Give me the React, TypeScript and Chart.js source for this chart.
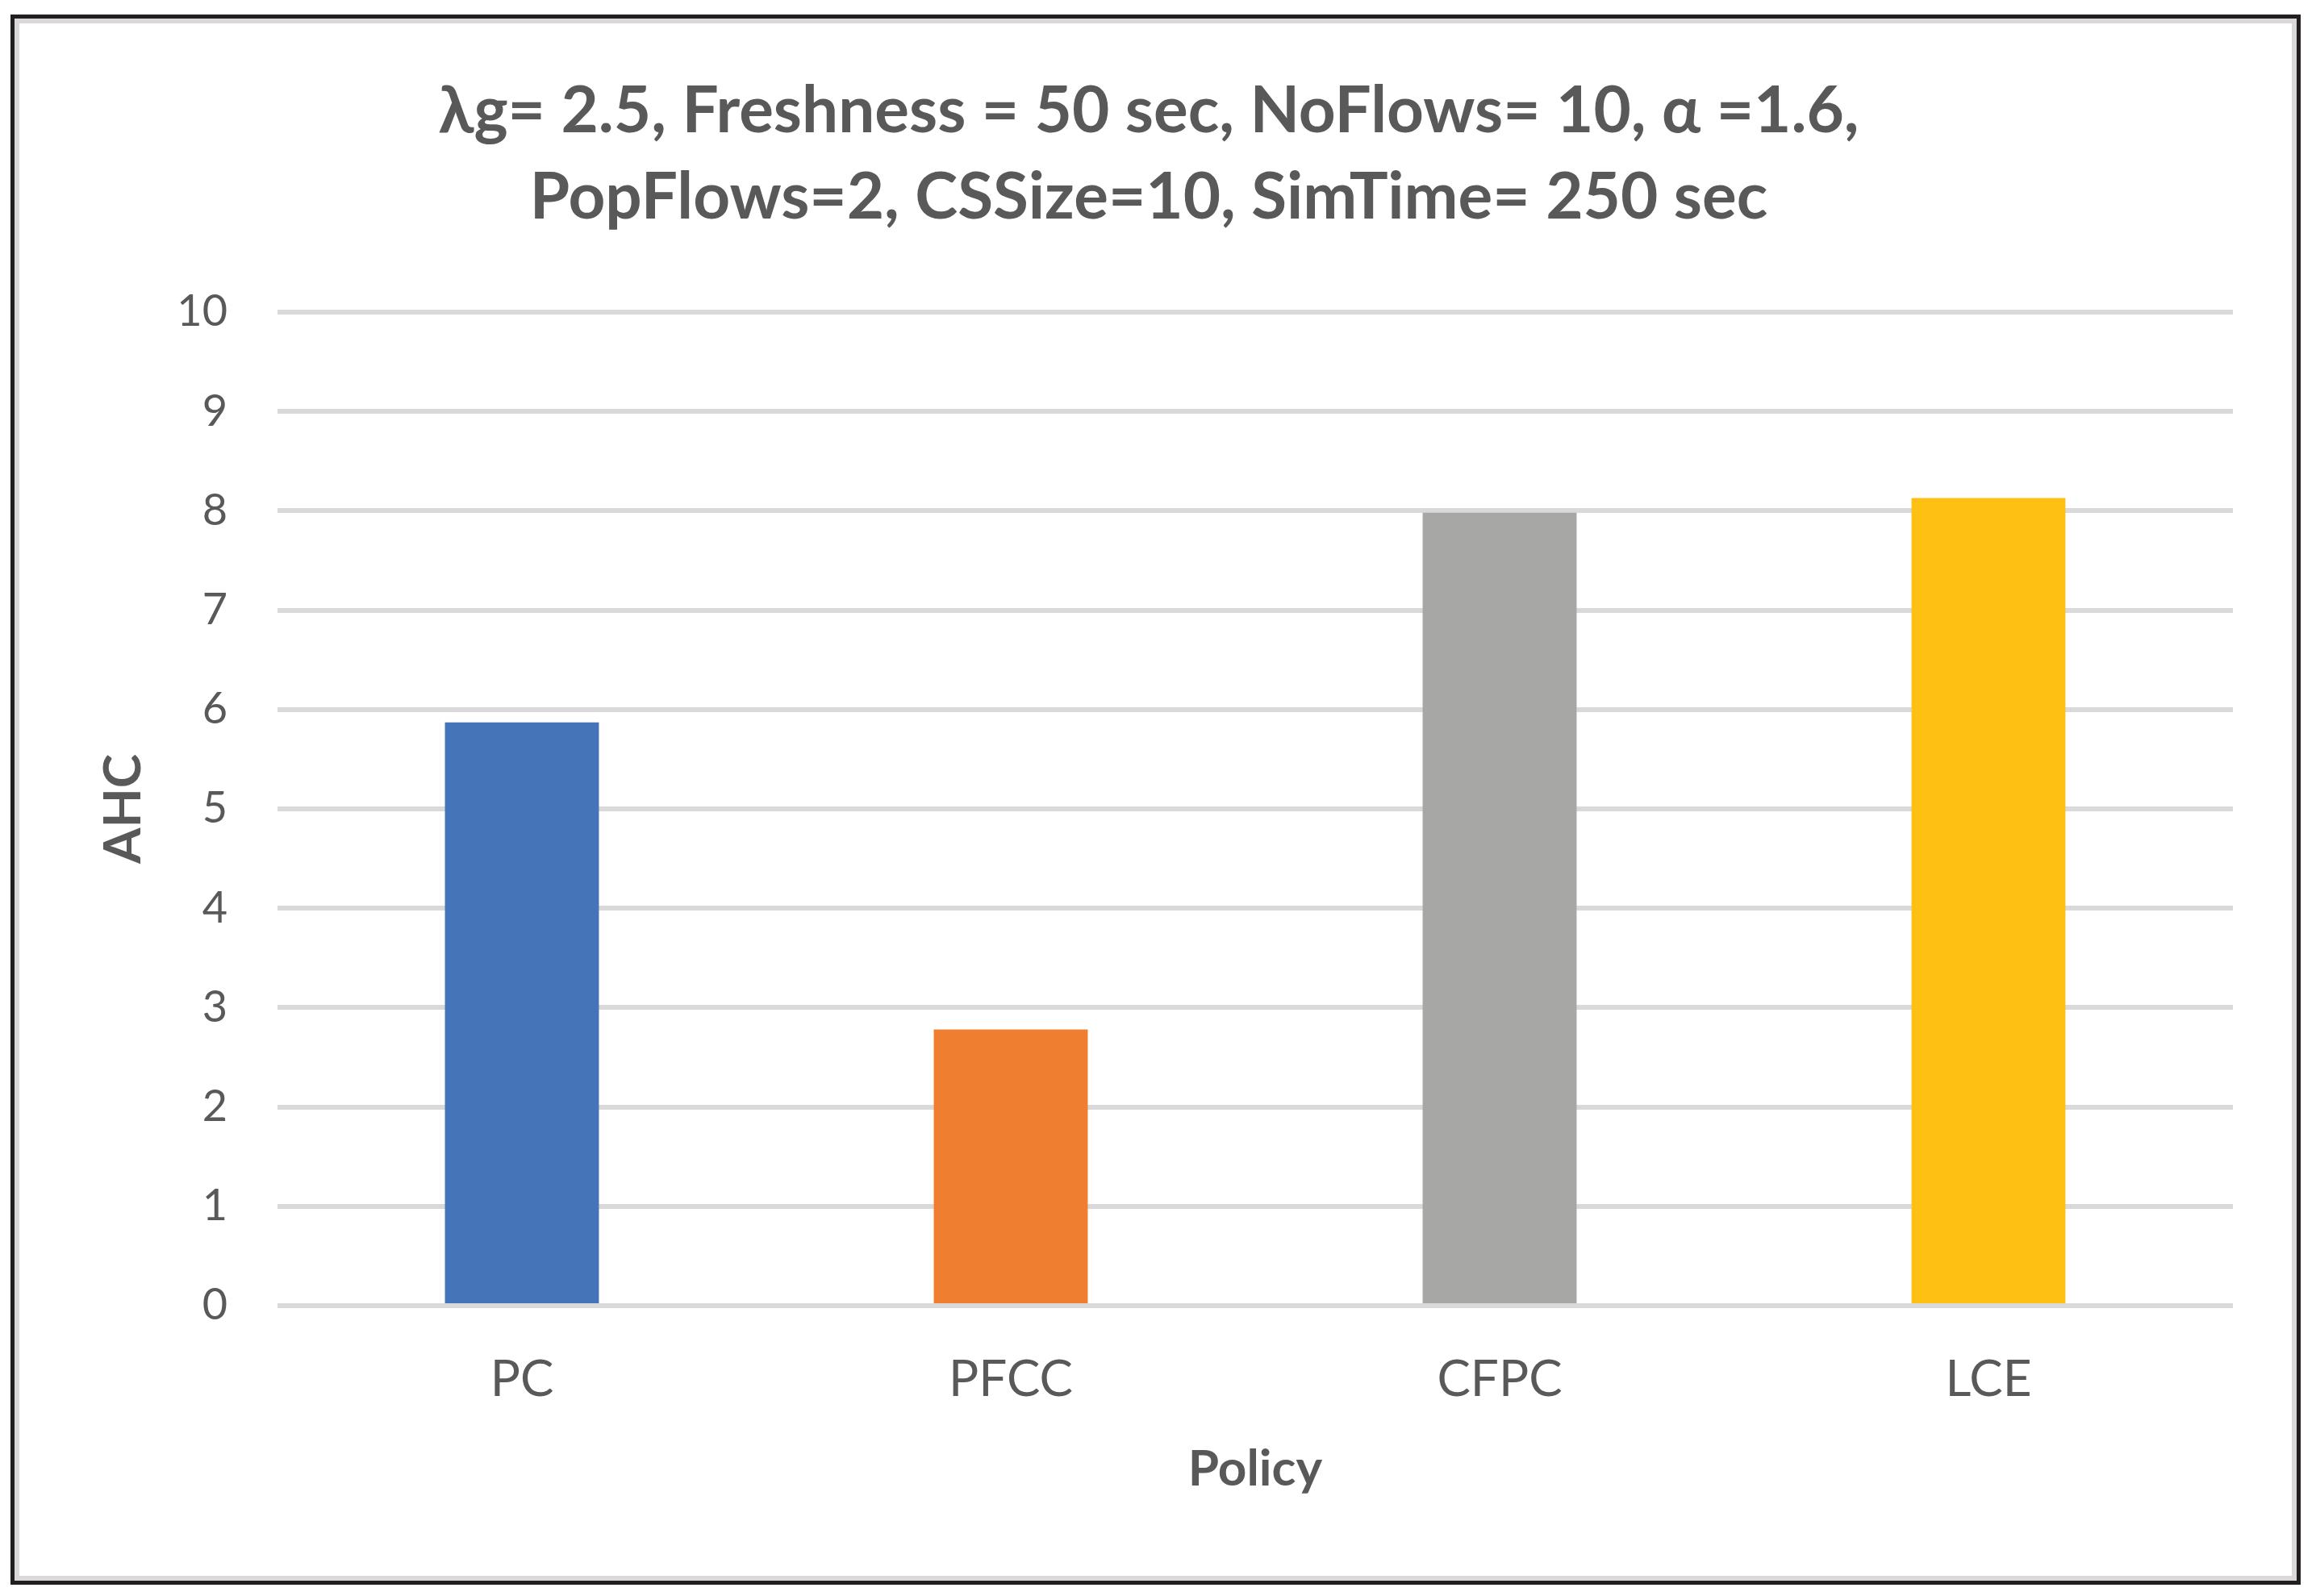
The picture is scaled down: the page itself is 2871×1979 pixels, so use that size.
import React, { useEffect, useRef } from 'react';
import { Chart, registerables } from 'chart.js';

Chart.register(...registerables);

// ---- data ----
const categories: string[] = ['PC', 'PFCC', 'CFPC', 'LCE'];
const ahcValues: number[] = [5.87, 2.78, 7.98, 8.13];
const barColors: string[] = ['#4674B8', '#EF7E30', '#A7A7A5', '#FFC014'];
const titleLines: string[] = [
  'λg= 2.5, Freshness = 50 sec, NoFlows= 10, α =1.6,',
  'PopFlows=2, CSSize=10, SimTime= 250 sec',
];
const xAxisTitle = 'Policy';
const yAxisTitle = 'AHC';
const yMin = 0;
const yMax = 10;
const yStep = 1;

const FONT = 'Lato, "Open Sans", "Liberation Sans", sans-serif';
const TEXT = '#595959';
const W = 2871;
const H = 1979;

export default function App() {
  const ref = useRef<HTMLCanvasElement>(null);

  useEffect(() => {
    const chart = new Chart(ref.current as HTMLCanvasElement, {
      type: 'bar',
      data: {
        labels: categories,
        datasets: [
          {
            label: yAxisTitle,
            data: ahcValues,
            backgroundColor: barColors,
            borderWidth: 0,
            categoryPercentage: 1,
            barPercentage: 0.315,
          },
        ],
      },
      options: {
        responsive: false,
        animation: false,
        devicePixelRatio: 1,
        layout: { padding: { left: 80, right: 103, top: 0, bottom: 0 } },
        plugins: {
          legend: { display: false },
          tooltip: { enabled: false },
          title: {
            display: true,
            text: titleLines,
            color: TEXT,
            font: { family: FONT, size: 80, weight: 'bold', lineHeight: 107 / 80 },
            padding: { top: 85, bottom: 88 },
          },
        },
        scales: {
          x: {
            grid: { display: false },
            border: { display: false },
            ticks: { color: TEXT, font: { family: FONT, size: 62 }, padding: 47 },
            title: {
              display: true,
              text: xAxisTitle,
              color: TEXT,
              font: { family: FONT, size: 62, weight: 'bold' },
              padding: { top: 0, bottom: 120 },
            },
            afterFit: (s: any) => {
              s.height = 360;
            },
          },
          y: {
            min: yMin,
            max: yMax,
            ticks: { stepSize: yStep, color: TEXT, font: { family: FONT, size: 54 }, padding: 62 },
            grid: { color: '#d9d9d9', lineWidth: 6, drawTicks: false },
            border: { display: false },
            title: {
              display: true,
              text: yAxisTitle,
              color: TEXT,
              font: { family: FONT, size: 64, weight: 'bold' },
              padding: { top: 35, bottom: 0 },
            },
            afterFit: (s: any) => {
              s.width = 264;
            },
          },
        },
      } as any,
    });
    return () => chart.destroy();
  }, []);

  return (
    <div style={{ position: 'fixed', left: 0, top: 0, width: W, height: H, background: '#ffffff', overflow: 'hidden' }}>
      <div
        style={{
          position: 'absolute',
          left: 13,
          top: 18,
          width: 2839,
          height: 1947,
          boxSizing: 'border-box',
          border: '5px solid #231f20',
          boxShadow: 'inset 0 0 0 6px #d9d9d9',
          background: '#ffffff',
        }}
      />
      <canvas ref={ref} width={W} height={H} style={{ position: 'absolute', left: 0, top: 0, width: W, height: H }} />
    </div>
  );
}
